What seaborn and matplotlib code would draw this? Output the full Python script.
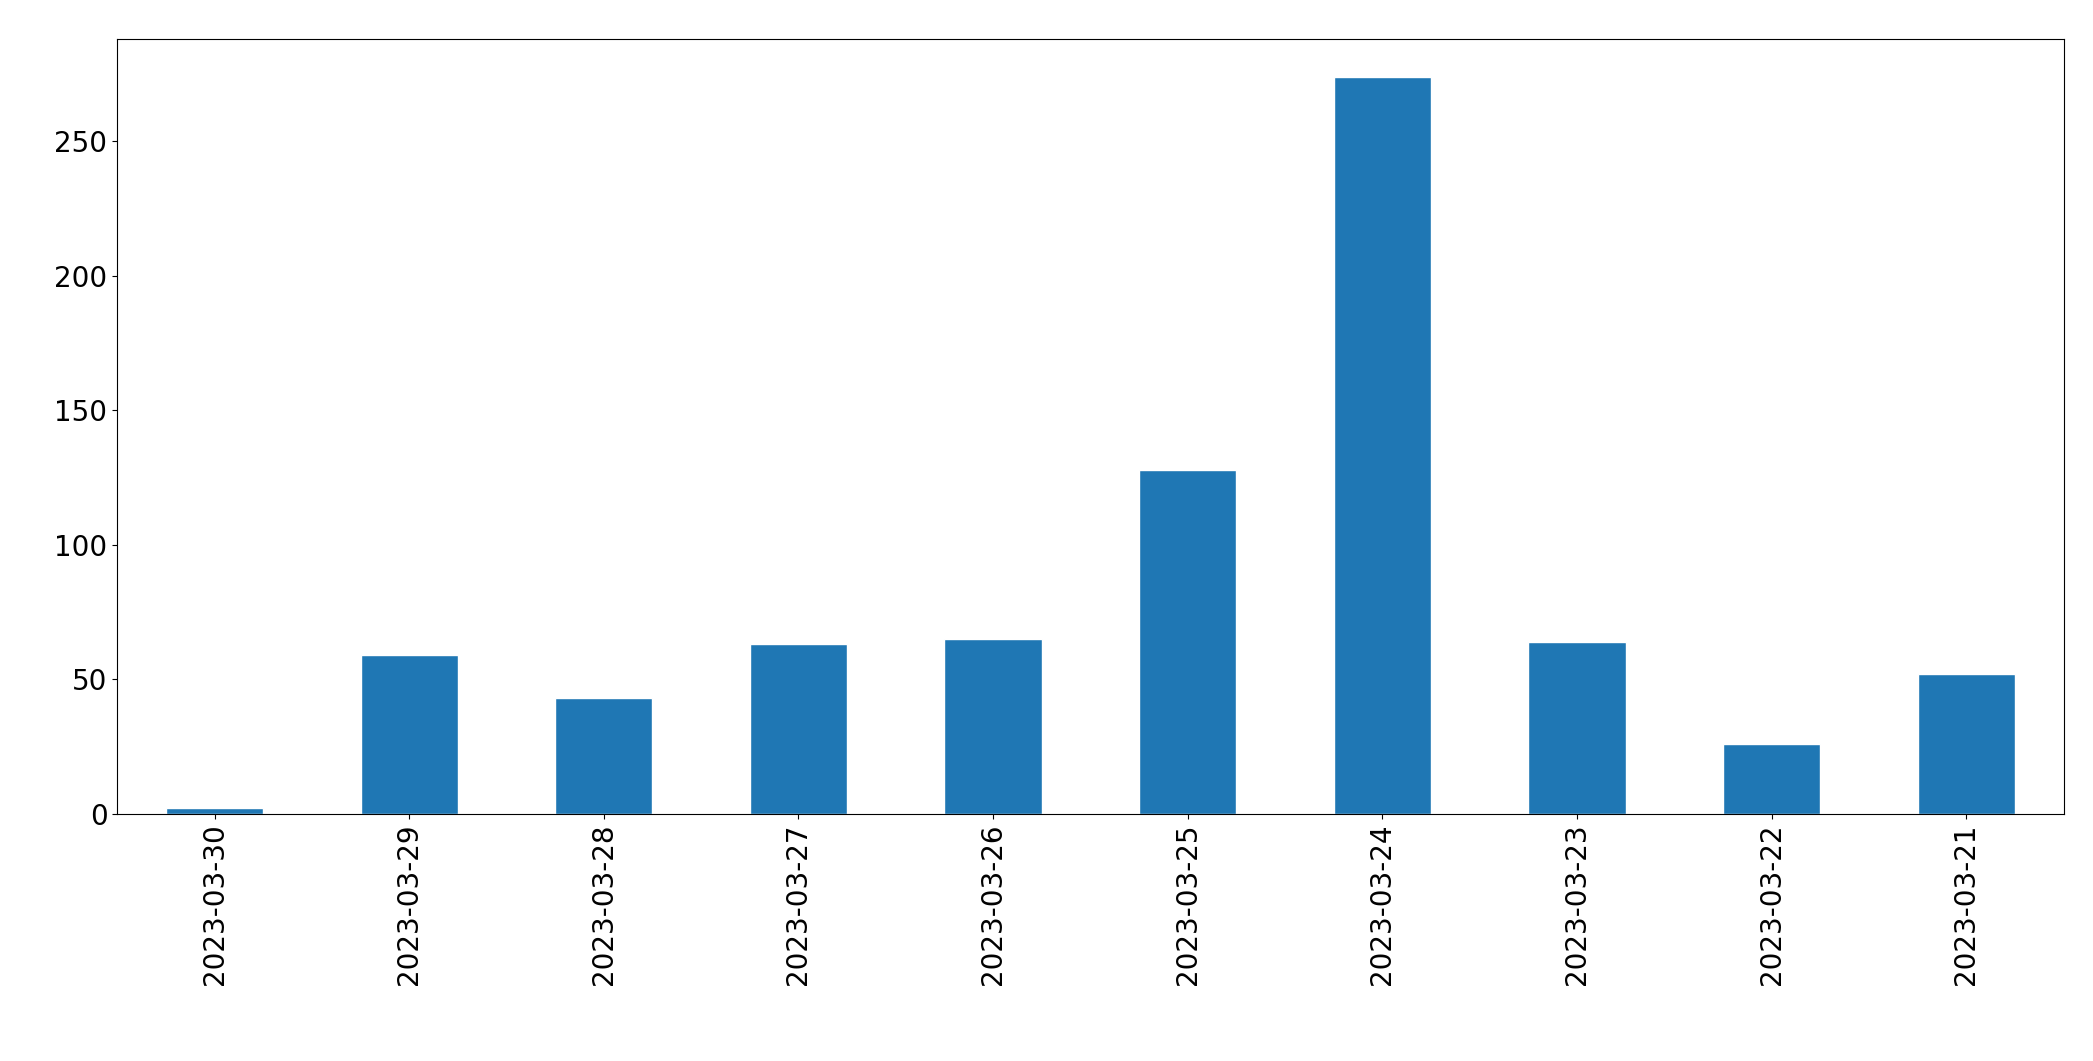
import matplotlib
matplotlib.use("Agg")
import matplotlib.pyplot as plt
import seaborn as sns
import pandas as pd

dates = ['2023-03-30', '2023-03-29', '2023-03-28', '2023-03-27', '2023-03-26',
         '2023-03-25', '2023-03-24', '2023-03-23', '2023-03-22', '2023-03-21']
counts = [2, 59, 43, 63, 65, 128, 274, 64, 26, 52]

df = pd.DataFrame({'date': dates, 'count': counts})

sns.set_style("ticks")
plt.rcParams['font.family'] = ['DejaVu Sans']

fig = plt.figure(figsize=(20.93, 10.61), dpi=100, facecolor='white')
ax = fig.add_axes([0.056, 0.233, 0.93, 0.73])

sns.barplot(data=df, x='date', y='count', order=dates, color='#1f77b4',
            saturation=1, width=0.5, ax=ax)
ax.set_xlabel('')
ax.set_ylabel('')
ax.set_xlim(-0.5, len(dates) - 0.5)
ax.set_ylim(0, 288)
ax.tick_params(axis='both', labelsize=20, colors='black')
ax.tick_params(axis='x', labelrotation=90)
for s in ax.spines.values():
    s.set_visible(True)
    s.set_color('black')
    s.set_linewidth(0.8)

fig.savefig('out.png', dpi=100, facecolor='white')
